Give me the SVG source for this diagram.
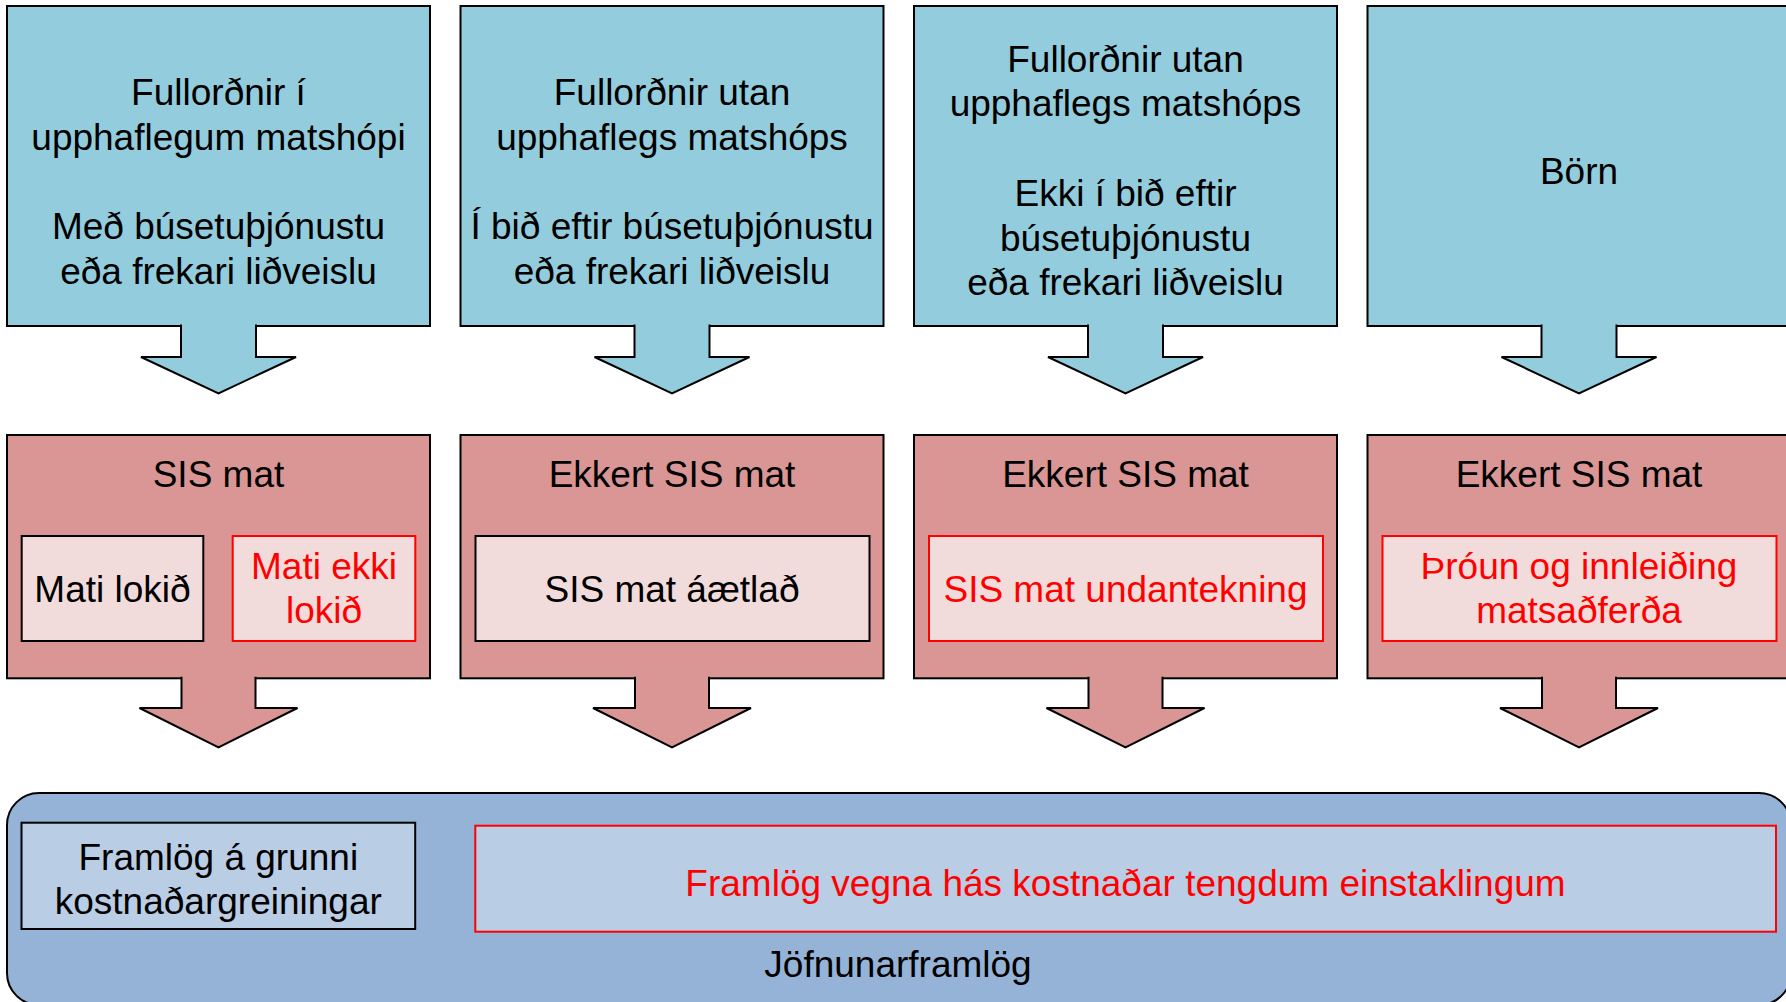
<svg xmlns="http://www.w3.org/2000/svg" width="1786" height="1002" viewBox="0 0 1786 1002">
<style>
text{font-family:"Liberation Sans",Arial,Helvetica,sans-serif;font-size:37px;text-anchor:middle;fill:#000}
text.r{fill:#FF0000}
.top{fill:#93CDDD;stroke:#000;stroke-width:2}
.mid{fill:#D99694;stroke:#000;stroke-width:2}
.inK{fill:#F2DCDB;stroke:#000;stroke-width:2}
.inR{fill:#F2DCDB;stroke:#FF0000;stroke-width:2}
.bot{fill:#95B3D7;stroke:#000;stroke-width:2}
.binK{fill:#B9CDE5;stroke:#000;stroke-width:2}
.binR{fill:#B9CDE5;stroke:#FF0000;stroke-width:2}
.arB{fill:#93CDDD;stroke:#000;stroke-width:2;stroke-linejoin:miter}
.arP{fill:#D99694;stroke:#000;stroke-width:2;stroke-linejoin:miter}
</style>
<rect width="1786" height="1002" fill="#FFFFFF"/>

<g id="top1"><rect class="top" x="7" y="6" width="423" height="320"/>
<text x="218.5" y="105">Fullorðnir í</text><text x="218.5" y="149.8">upphaflegum matshópi</text>
<text x="218.5" y="239.4">Með búsetuþjónustu</text><text x="218.5" y="284.2">eða frekari liðveislu</text></g>
<g id="top2"><rect class="top" x="460.5" y="6" width="423" height="320"/>
<text x="672" y="105">Fullorðnir utan</text><text x="672" y="149.8">upphaflegs matshóps</text>
<text x="672" y="239.4">Í bið eftir búsetuþjónustu</text><text x="672" y="284.2">eða frekari liðveislu</text></g>
<g id="top3"><rect class="top" x="914" y="6" width="423" height="320"/>
<text x="1125.5" y="71.7">Fullorðnir utan</text><text x="1125.5" y="116.4">upphaflegs matshóps</text>
<text x="1125.5" y="205.8">Ekki í bið eftir</text><text x="1125.5" y="250.5">búsetuþjónustu</text><text x="1125.5" y="295.2">eða frekari liðveislu</text></g>
<g id="top4"><rect class="top" x="1367.5" y="6" width="423" height="320"/>
<text x="1579" y="184">Börn</text></g>

<g id="mid1"><rect class="mid" x="7" y="435" width="423" height="243.3"/>
<text x="218.5" y="486.7">SIS mat</text>
<g id="mid1a"><rect class="inK" x="21.7" y="536" width="181.6" height="105"/><text x="112.5" y="601.7">Mati lokið</text></g>
<g id="mid1b"><rect class="inR" x="232.7" y="536" width="182.6" height="105"/><text class="r" x="324" y="579">Mati ekki</text><text class="r" x="324" y="623.3">lokið</text></g></g>
<g id="mid2"><rect class="mid" x="460.5" y="435" width="423" height="243.3"/>
<text x="672" y="486.7">Ekkert SIS mat</text>
<g id="mid2a"><rect class="inK" x="475.5" y="536" width="394" height="105"/><text x="672" y="601.7">SIS mat áætlað</text></g></g>
<g id="mid3"><rect class="mid" x="914" y="435" width="423" height="243.3"/>
<text x="1125.5" y="486.7">Ekkert SIS mat</text>
<g id="mid3a"><rect class="inR" x="929" y="536" width="394" height="105"/><text class="r" x="1125.5" y="601.7">SIS mat undantekning</text></g></g>
<g id="mid4"><rect class="mid" x="1367.5" y="435" width="423" height="243.3"/>
<text x="1579" y="486.7">Ekkert SIS mat</text>
<g id="mid4a"><rect class="inR" x="1382.5" y="536" width="394" height="105"/><text class="r" x="1579" y="579">Þróun og innleiðing</text><text class="r" x="1579" y="623.3">matsaðferða</text></g></g>

<g id="bottom"><rect class="bot" x="7" y="793" width="1784" height="212" rx="32" ry="32"/>
<g id="bot1"><rect class="binK" x="21.5" y="822.7" width="393.7" height="106.3"/><text x="218.3" y="870">Framlög á grunni</text><text x="218.3" y="914.3">kostnaðargreiningar</text></g>
<g id="bot2"><rect class="binR" x="475.3" y="825.7" width="1300.7" height="106"/><text class="r" x="1125.5" y="896">Framlög vegna hás kostnaðar tengdum einstaklingum</text></g>
<text x="898" y="976.7">Jöfnunarframlög</text></g>

<g id="connectors">
<path class="arB" d="M181,324.5 V357 H141 L218.5,393.3 L296,357 H256 V324.5"/>
<path class="arB" d="M634.5,324.5 V357 H594.5 L672,393.3 L749.5,357 H709.5 V324.5"/>
<path class="arB" d="M1088,324.5 V357 H1048 L1125.5,393.3 L1203,357 H1163 V324.5"/>
<path class="arB" d="M1541.5,324.5 V357 H1501.5 L1579,393.3 L1656.5,357 H1616.5 V324.5"/>
<path class="arP" d="M181.5,676.8 V708 H139.5 L218.5,747.3 L297.5,708 H255.5 V676.8"/>
<path class="arP" d="M635,676.8 V708 H593 L672,747.3 L751,708 H709 V676.8"/>
<path class="arP" d="M1088.5,676.8 V708 H1046.5 L1125.5,747.3 L1204.5,708 H1162.5 V676.8"/>
<path class="arP" d="M1542,676.8 V708 H1500 L1579,747.3 L1658,708 H1616 V676.8"/>
</g>
</svg>
